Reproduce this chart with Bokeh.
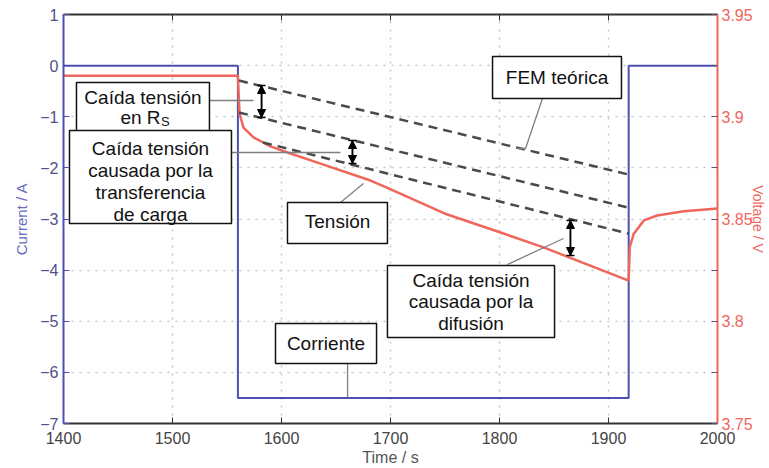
from bokeh.plotting import figure
from bokeh.models import Range1d, LinearAxis, FixedTicker, Arrow, NormalHead, TeeHead
from bokeh.embed import file_html
from bokeh.resources import INLINE
from bokeh.core.properties import value

# ---------------- data ----------------
time_current = [1400, 1560, 1560, 1918.5, 1918.5, 2000]
current = [0, 0, -6.5, -6.5, 0, 0]

time_voltage = [1400, 1560, 1561.5, 1565.1, 1574.3, 1589.9, 1605.5, 1635.8, 1681.7,
                1697.2, 1749.5, 1803.7, 1840.4, 1918.5, 1919.5, 1923.2, 1932.4,
                1944.7, 1969.1, 2000]
voltage = [3.920, 3.920, 3.9016, 3.8947, 3.8899, 3.8855, 3.8825, 3.8771, 3.8688,
           3.8652, 3.8527, 3.8429, 3.8361, 3.8199, 3.8362, 3.8428, 3.8493,
           3.8517, 3.8538, 3.8551]

fem_time = [1561, 1918]
fem_voltage = [3.9177, 3.8718]
rs_time = [1561, 1918]
rs_voltage = [3.9021, 3.8556]
ct_time = [1583, 1918]
ct_voltage = [3.8874, 3.8429]

x_ticks = [1400, 1500, 1600, 1700, 1800, 1900, 2000]
current_ticks = [-7, -6, -5, -4, -3, -2, -1, 0, 1]
current_labels = ["\u22127", "\u22126", "\u22125", "\u22124", "\u22123", "\u22122", "\u22121", "0", "1"]
voltage_ticks = [3.75, 3.8, 3.85, 3.9, 3.95]
voltage_minor = [3.775, 3.825, 3.875, 3.925]
voltage_labels = ["3.75", "3.8", "3.85", "3.9", "3.95"]

# ---------------- style ----------------
BLUE = "#4f4fb0"
RED = "#f0665c"
FONT = "Liberation Sans"

p = figure(width=769, height=468, x_range=Range1d(1400, 2000), y_range=Range1d(-7, 1),
           output_backend="svg", toolbar_location=None,
           min_border_left=63, min_border_right=52, min_border_top=14, min_border_bottom=45)
p.extra_y_ranges = {"v": Range1d(3.75, 3.95)}
p.outline_line_color = None

# grid
for g in (p.xgrid, p.ygrid):
    g.grid_line_color = "#c4c4d0"
    g.grid_line_dash = "2 6"
    g.grid_line_width = 1.5

# bottom axis
xa = p.xaxis[0]
xa.ticker = FixedTicker(ticks=x_ticks)
xa.axis_line_color = "#333333"
xa.axis_line_width = 2
xa.major_tick_in = 6
xa.major_tick_out = 0
xa.major_tick_line_color = "#333333"
xa.minor_tick_line_color = None
xa.major_label_text_font = FONT
xa.major_label_text_font_size = "16px"
xa.major_label_text_color = "#444444"
xa.major_label_standoff = 8
xa.axis_label = "Time / s"
xa.axis_label_text_font = FONT
xa.axis_label_text_font_size = "16px"
xa.axis_label_text_font_style = "normal"
xa.axis_label_text_color = "#555555"
xa.axis_label_standoff = 2

# top axis: only (label-free) minor ticks at the time positions
top = LinearAxis(ticker=FixedTicker(ticks=[], minor_ticks=x_ticks),
                 axis_line_color="#333333", axis_line_width=2,
                 major_tick_line_color=None,
                 minor_tick_in=6, minor_tick_out=0, minor_tick_line_color="#333333",
                 major_label_standoff=0)
p.add_layout(top, "above")

# left axis
ya = p.yaxis[0]
ya.ticker = FixedTicker(ticks=current_ticks)
ya.major_label_overrides = {t: l for t, l in zip(current_ticks, current_labels)}
ya.axis_line_color = BLUE
ya.axis_line_width = 2
ya.major_tick_in = 6
ya.major_tick_out = 0
ya.major_tick_line_color = BLUE
ya.minor_tick_line_color = None
ya.major_label_text_font = FONT
ya.major_label_text_font_size = "16px"
ya.major_label_text_color = "#50508a"
ya.major_label_standoff = 5
ya.axis_label = "Current / A"
ya.axis_label_text_font = FONT
ya.axis_label_text_font_size = "15px"
ya.axis_label_text_font_style = "normal"
ya.axis_label_text_color = "#6a6ac0"
ya.axis_label_standoff = 7

# right axis (voltage)
ra = LinearAxis(y_range_name="v",
                ticker=FixedTicker(ticks=voltage_ticks, minor_ticks=voltage_minor),
                major_label_overrides={t: l for t, l in zip(voltage_ticks, voltage_labels)},
                axis_line_color=RED, axis_line_width=2,
                major_tick_in=6, major_tick_out=0, major_tick_line_color="#555577",
                minor_tick_in=6, minor_tick_out=0, minor_tick_line_color="#555577",
                major_label_text_font=FONT, major_label_text_font_size="16px",
                major_label_text_color=RED, major_label_standoff=4,
                axis_label="Voltage / V", axis_label_text_font=FONT,
                axis_label_text_font_size="14px", axis_label_text_font_style="normal",
                axis_label_text_color=RED, axis_label_standoff=-6)
p.add_layout(ra, "right")

# ---------------- data lines ----------------
p.line(time_current, current, line_color=BLUE, line_width=2)
p.line(time_voltage, voltage, y_range_name="v", line_color=RED, line_width=2.5)
for tt, vv in ((fem_time, fem_voltage), (rs_time, rs_voltage), (ct_time, ct_voltage)):
    p.line(tt, vv, y_range_name="v", line_color="#4a4a4a", line_width=2.5, line_dash="9 6")

# ---------------- annotations ----------------
LEAD = "#808080"
p.multi_line(xs=[[1533.9, 1574.3], [1554.1, 1654.1], [1839.4, 1823.9, 1816.5],
                 [1654.1, 1675.2], [1807.3, 1858.7], [1660.6, 1660.6]],
             ys=[[-0.682, -0.682], [-1.699, -1.699], [-0.643, -1.621, -1.621],
                 [-2.677, -2.306], [-3.890, -3.381], [-5.826, -6.491]],
             line_color=LEAD, line_width=1.3)

for xa_, y0, y1 in ((1581.7, -0.389, -1.015), (1665.1, -1.465, -1.914), (1865.1, -3.029, -3.714)):
    p.add_layout(Arrow(x_start=xa_, y_start=y0, x_end=xa_, y_end=y1, line_width=1.5,
                       line_color="black",
                       start=NormalHead(size=8, fill_color="black", line_color="black"),
                       end=NormalHead(size=8, fill_color="black", line_color="black")))
    p.add_layout(Arrow(x_start=xa_, y_start=y0, x_end=xa_, y_end=y1, line_width=1.5,
                       line_color="black",
                       start=TeeHead(size=8, line_color="black", line_width=1.5),
                       end=TeeHead(size=8, line_color="black", line_width=1.5)))

box_left = [1411.9, 1405.5, 1793.6, 1605.5, 1697.2, 1594.5]
box_right = [1533.9, 1554.1, 1911.9, 1697.2, 1850.5, 1687.2]
box_top = [-0.330, -1.269, 0.178, -2.677, -3.910, -5.044]
box_bottom = [-1.32, -3.088, -0.643, -3.479, -5.318, -5.826]
p.quad(left=box_left, right=box_right, top=box_top, bottom=box_bottom,
       fill_color="white", line_color="#111111", line_width=1.5)

tx = [1472.9, 1479.8, 1479.8, 1479.8, 1479.8, 1852.8, 1651.4, 1773.9, 1773.9, 1773.9, 1640.8]
ty = [-0.623, -1.621, -2.051, -2.482, -2.912, -0.232, -3.04, -4.203, -4.614, -5.044, -5.435]
tt = ["Ca\u00edda tensi\u00f3n", "Ca\u00edda tensi\u00f3n", "causada por la", "transferencia",
      "de carga", "FEM te\u00f3rica", "Tensi\u00f3n", "Ca\u00edda tensi\u00f3n", "causada por la",
      "difusi\u00f3n", "Corriente"]
p.text(x=tx, y=ty, text=tt, text_font=value(FONT), text_font_size="19px",
       text_align="center", text_baseline="middle", text_color="#111111")
p.text(x=[1489.0], y=[-1.015], text=["en R"], text_font=value(FONT), text_font_size="19px",
       text_align="right", text_baseline="middle", text_color="#111111")
p.text(x=[1489.4], y=[-1.10], text=["S"], text_font=value(FONT), text_font_size="13px",
       text_align="left", text_baseline="middle", text_color="#111111")

open("out.html", "w").write(file_html(p, INLINE))
